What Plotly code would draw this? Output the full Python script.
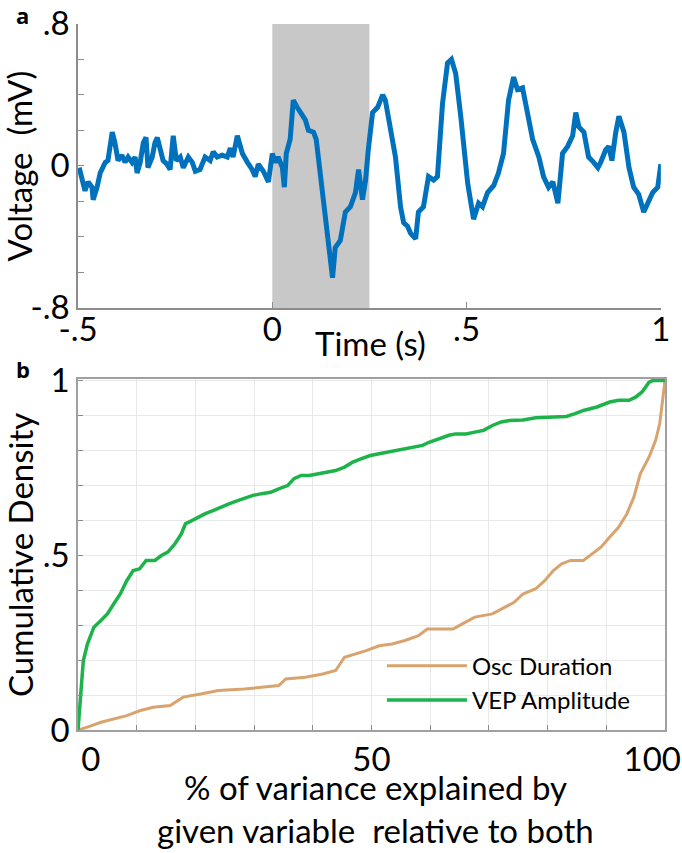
import plotly.graph_objects as go

# panel a: averaged VEP trace (time in s, voltage in mV)
vep_time = [
    -0.497, -0.490, -0.482, -0.474, -0.464, -0.461, -0.451, -0.443, -0.430, -0.423,
    -0.412, -0.405, -0.397, -0.387, -0.379, -0.371, -0.361, -0.353, -0.348, -0.340,
    -0.332, -0.325, -0.320, -0.309, -0.302, -0.296, -0.289, -0.281, -0.271, -0.263,
    -0.255, -0.247, -0.237, -0.229, -0.216, -0.206, -0.198, -0.186, -0.173, -0.160,
    -0.152, -0.142, -0.129, -0.116, -0.108, -0.101, -0.090, -0.077, -0.064, -0.052,
    -0.044, -0.036, -0.023, -0.010, 0.000, 0.008, 0.015, 0.026, 0.031, 0.036,
    0.046, 0.054, 0.064, 0.072, 0.085, 0.093, 0.106, 0.113, 0.119, 0.131,
    0.144, 0.155, 0.162, 0.175, 0.188, 0.201, 0.214, 0.222, 0.232, 0.240,
    0.247, 0.258, 0.271, 0.284, 0.291, 0.304, 0.317, 0.330, 0.338, 0.348,
    0.356, 0.369, 0.376, 0.389, 0.402, 0.415, 0.425, 0.438, 0.451, 0.461,
    0.472, 0.485, 0.503, 0.518, 0.531, 0.541, 0.554, 0.570, 0.582, 0.595,
    0.608, 0.621, 0.631, 0.644, 0.657, 0.670, 0.686, 0.698, 0.711, 0.722,
    0.735, 0.747, 0.760, 0.773, 0.781, 0.789, 0.802, 0.814, 0.827, 0.838,
    0.845, 0.858, 0.866, 0.874, 0.884, 0.892, 0.905, 0.918, 0.930, 0.943,
    0.956, 0.966, 0.979, 0.992, 1.000,
]
vep_volt = [
    -0.01, -0.08, -0.14, -0.09, -0.12, -0.19, -0.12, -0.04, 0.02, 0.03,
    0.19, 0.13, 0.03, 0.06, 0.02, 0.05, 0.02, 0.05, -0.04, 0.02,
    0.13, 0.16, -0.01, 0.05, 0.13, 0.16, 0.11, 0.03, 0.01, -0.02,
    0.17, 0.03, 0.05, -0.01, 0.05, 0.02, -0.03, -0.02, 0.05, 0.03,
    0.08, 0.05, 0.06, 0.05, 0.10, 0.05, 0.17, 0.07, 0.02, -0.02,
    -0.06, 0.01, -0.03, -0.09, 0.07, 0.02, 0.05, -0.01, -0.12, 0.07,
    0.15, 0.37, 0.33, 0.30, 0.26, 0.20, 0.19, 0.15, 0.03, -0.19,
    -0.42, -0.63, -0.46, -0.42, -0.26, -0.23, -0.15, -0.02, -0.19, -0.08,
    0.09, 0.30, 0.33, 0.40, 0.37, 0.19, 0.05, -0.23, -0.32, -0.34,
    -0.38, -0.41, -0.26, -0.23, -0.06, -0.08, -0.06, 0.35, 0.58, 0.60,
    0.52, 0.28, -0.10, -0.30, -0.21, -0.23, -0.15, -0.11, -0.04, 0.07,
    0.37, 0.50, 0.43, 0.44, 0.28, 0.15, 0.05, -0.06, -0.12, -0.09,
    -0.21, 0.07, 0.11, 0.17, 0.30, 0.22, 0.19, 0.05, 0.02, -0.01,
    0.02, 0.09, 0.11, 0.03, 0.19, 0.28, 0.19, -0.01, -0.12, -0.16,
    -0.26, -0.21, -0.15, -0.12, 0.01,
]
stim_window = [0, 0.25]

# panel b: cumulative densities (% of variance explained)
vep_amp_pct = [
    0, 0.5, 0.9, 1.6, 2.7, 3.9, 5.0, 6.1, 7.2, 8.3, 9.4, 10.5, 11.6, 13.1, 14.2,
    15.3, 16.5, 17.6, 18.3, 19.4, 20.5, 21.6, 23.1, 24.2, 25.7, 27.2, 28.7, 29.8,
    31.3, 32.8, 34.2, 35.7, 36.8, 38.0, 39.4, 40.9, 42.4, 43.9, 45.4, 46.8, 48.3,
    49.8, 51.3, 52.8, 54.3, 55.7, 57.2, 58.7, 59.8, 61.3, 63.2, 64.3, 66.1, 67.6,
    69.1, 70.6, 72.1, 73.5, 75.8, 78.0, 80.2, 83.2, 84.7, 86.1, 88.4, 90.6, 92.1,
    93.9, 95.0, 96.1, 97.3, 98.0, 100,
]
vep_amp_cdf = [
    0, 0.103, 0.198, 0.246, 0.294, 0.313, 0.332, 0.361, 0.389, 0.427, 0.456,
    0.461, 0.485, 0.485, 0.499, 0.509, 0.532, 0.561, 0.590, 0.599, 0.609, 0.618,
    0.628, 0.637, 0.647, 0.656, 0.666, 0.671, 0.676, 0.680, 0.690, 0.699, 0.719,
    0.728, 0.728, 0.733, 0.738, 0.742, 0.752, 0.766, 0.776, 0.785, 0.790, 0.795,
    0.800, 0.804, 0.809, 0.814, 0.823, 0.833, 0.843, 0.847, 0.847, 0.852, 0.857,
    0.871, 0.881, 0.885, 0.887, 0.893, 0.895, 0.897, 0.905, 0.914, 0.924, 0.938,
    0.943, 0.943, 0.952, 0.967, 0.995, 1.0, 1.0,
]
osc_dur_pct = [
    0, 1.6, 3.9, 6.1, 8.3, 10.5, 12.8, 15.7, 17.9, 20.9, 23.9, 28.3, 31.3, 34.2,
    35.4, 38.7, 41.7, 43.9, 45.4, 47.6, 49.1, 51.3, 53.5, 55.7, 58.0, 59.5, 63.9,
    65.4, 67.6, 70.6, 72.1, 74.3, 75.8, 78.0, 79.5, 81.0, 82.4, 83.9, 86.1, 87.6,
    89.1, 90.6, 92.1, 93.5, 94.7, 95.8, 97.3, 98.4, 99.1, 99.6, 100,
]
osc_dur_cdf = [
    0, 0.008, 0.022, 0.031, 0.041, 0.055, 0.065, 0.070, 0.094, 0.103, 0.113,
    0.117, 0.122, 0.127, 0.146, 0.151, 0.160, 0.170, 0.208, 0.218, 0.227, 0.241,
    0.246, 0.256, 0.270, 0.289, 0.289, 0.303, 0.323, 0.332, 0.346, 0.365, 0.389,
    0.404, 0.427, 0.456, 0.475, 0.485, 0.485, 0.504, 0.523, 0.552, 0.580, 0.618,
    0.666, 0.733, 0.781, 0.828, 0.876, 0.943, 1.0,
]

FONT = "Lato"
AXIS_GRAY = "#8c8c8c"
GRID = "#e8e8e8"

fig = go.Figure()

fig.add_trace(go.Scatter(
    x=vep_time, y=vep_volt, mode="lines", xaxis="x", yaxis="y",
    line=dict(color="#0072BD", width=5), showlegend=False,
))
fig.add_trace(go.Scatter(
    x=osc_dur_pct, y=osc_dur_cdf, mode="lines", xaxis="x2", yaxis="y2",
    name="Osc Duration", line=dict(color="#D9A36E", width=3),
))
fig.add_trace(go.Scatter(
    x=vep_amp_pct, y=vep_amp_cdf, mode="lines", xaxis="x2", yaxis="y2",
    name="VEP Amplitude", line=dict(color="#1DB34A", width=3.5),
))

fig.add_shape(
    type="rect", xref="x", yref="y", x0=stim_window[0], x1=stim_window[1],
    y0=-0.8, y1=0.8, fillcolor="#c8c8c8", line_width=0, layer="below",
)

tickfont = dict(family=FONT, size=33, color="black")

fig.update_layout(
    template="none",
    width=682, height=853,
    margin=dict(l=0, r=0, t=0, b=0),
    paper_bgcolor="white", plot_bgcolor="white",
    font=dict(family=FONT, color="black"),
    xaxis=dict(
        domain=[0.1144, 0.969], anchor="y", range=[-0.5, 1], automargin=False,
        tickvals=[-0.5, 0, 0.5, 1], ticktext=["-.5", "0", ".5", "1"],
        ticks="inside", ticklen=6, tickcolor=AXIS_GRAY, tickfont=tickfont,
        ticklabeloverflow="allow", ticklabelstandoff=-8,
        showline=True, linecolor=AXIS_GRAY, linewidth=1.5, showgrid=False,
        zeroline=False,
    ),
    yaxis=dict(
        domain=[0.639, 0.972], anchor="x", range=[-0.8, 0.8], automargin=False,
        tickvals=[-0.8, 0, 0.8], ticktext=["-.8", "0", ".8"],
        ticks="inside", ticklen=6, tickcolor=AXIS_GRAY, tickfont=tickfont,
        ticklabeloverflow="allow",
        minor=dict(dtick=0.2, ticks="inside", ticklen=6, tickcolor=AXIS_GRAY),
        showline=True, linecolor=AXIS_GRAY, linewidth=1.5, showgrid=False,
        zeroline=False,
    ),
    xaxis2=dict(
        domain=[0.1144, 0.975], anchor="y2", range=[0, 100], automargin=False,
        tickvals=[0, 50, 100],
        ticktext=["&nbsp;&nbsp;&nbsp;0", "50", "100&nbsp;&nbsp;&nbsp;"],
        ticks="inside", ticklen=5, tickcolor=AXIS_GRAY, tickfont=tickfont,
        ticklabeloverflow="allow",
        minor=dict(dtick=10, ticks="inside", ticklen=5, tickcolor=AXIS_GRAY,
                   showgrid=True, gridcolor=GRID),
        showgrid=True, gridcolor=GRID,
        showline=True, mirror=True, linecolor="#a0a0a0", linewidth=1.5,
        zeroline=False,
    ),
    yaxis2=dict(
        domain=[0.1442, 0.5557], anchor="x2", range=[0, 1.004], automargin=False,
        tickvals=[0, 0.5, 1], ticktext=["0", ".5", "1"],
        ticks="inside", ticklen=5, tickcolor=AXIS_GRAY, tickfont=tickfont,
        ticklabeloverflow="allow",
        minor=dict(dtick=0.1, ticks="inside", ticklen=5, tickcolor=AXIS_GRAY,
                   showgrid=True, gridcolor=GRID),
        showgrid=True, gridcolor=GRID,
        showline=True, mirror=True, linecolor="#a0a0a0", linewidth=1.5,
        zeroline=False,
    ),
    legend=dict(
        x=0.56, y=0.199, xanchor="left", yanchor="middle",
        bgcolor="rgba(0,0,0,0)", font=dict(family=FONT, size=24),
        itemwidth=80, tracegroupgap=0,
    ),
)

# axis titles and panel letters
labels = [
    dict(text="Voltage  (mV)", x=0.028, y=0.805, textangle=-90),
    dict(text="Time (s)", x=0.543, y=0.598, textangle=0),
    dict(text="Cumulative Density", x=0.03, y=0.35, textangle=-90),
    dict(text="% of variance explained by", x=0.55, y=0.077, textangle=0),
    dict(text="given variable  relative to both", x=0.55, y=0.027, textangle=0),
]
for lab in labels:
    fig.add_annotation(
        text=lab["text"], x=lab["x"], y=lab["y"], xref="paper", yref="paper",
        xanchor="center", yanchor="middle",
        showarrow=False, textangle=lab["textangle"],
        font=dict(family=FONT, size=33, color="black"),
    )
for letter, ypos in [("a", 0.983), ("b", 0.567)]:
    fig.add_annotation(
        text=f"<b>{letter}</b>", x=0.033, y=ypos, xref="paper", yref="paper",
        xanchor="center", yanchor="middle",
        showarrow=False, font=dict(family="Open Sans", size=22, color="black"),
    )

fig.write_html(
    "out.html",
    config={"displayModeBar": False},
    post_script="document.body.style.margin = '0';",
)
